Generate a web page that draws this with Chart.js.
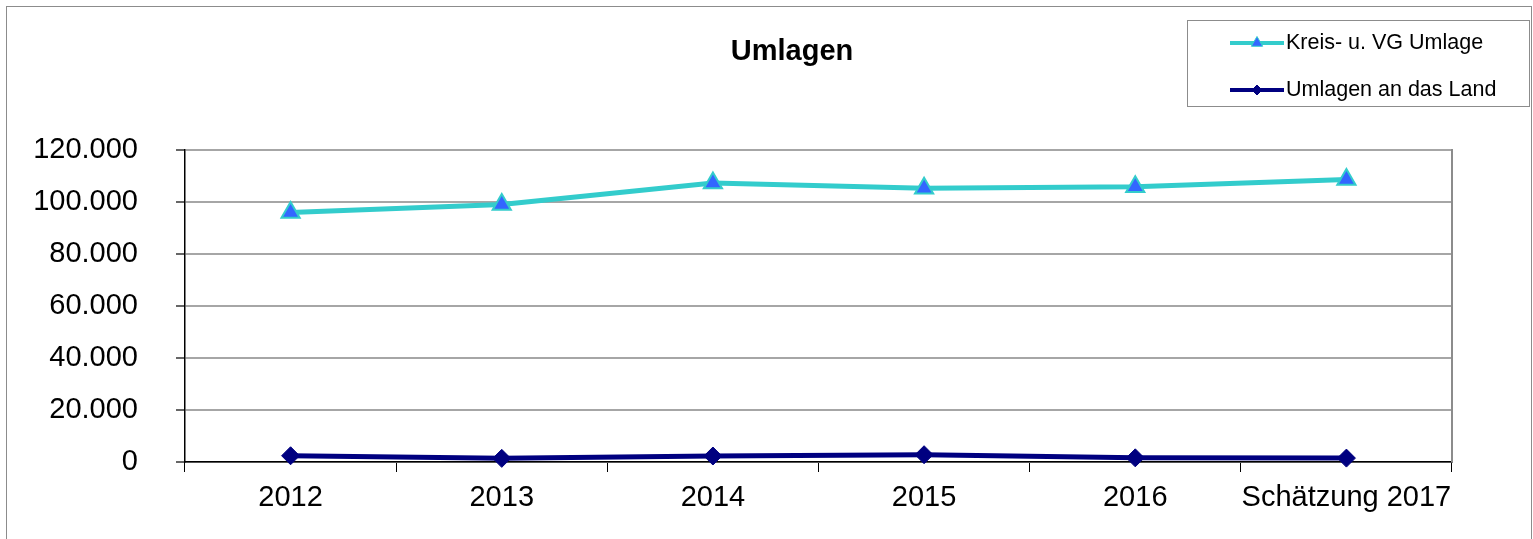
<!DOCTYPE html>
<html>
<head>
<meta charset="utf-8">
<script src="https://cdn.jsdelivr.net/npm/chart.js@4/dist/chart.umd.min.js"></script>
<style>
html,body{margin:0;padding:0;background:#fff;}
canvas{display:block;}
</style>
</head>
<body>
<canvas id="c" width="1533" height="539"></canvas>
<script>
const TITLE = 'Umlagen';
const categories = ['2012', '2013', '2014', '2015', '2016', 'Schätzung 2017'];
const kreisLabel = 'Kreis- u. VG Umlage';
const kreisValues = [96000, 99000, 107300, 105300, 105900, 108700];
const landLabel = 'Umlagen an das Land';
const landValues = [2400, 1400, 2300, 2800, 1600, 1500];
const yTicks = [0, 20000, 40000, 60000, 80000, 100000, 120000];

const FONT = '"Liberation Sans", Arial, sans-serif';

function fmt(v){ return String(v).replace(/\B(?=(\d{3})+(?!\d))/g, '.'); }

function drawMarker(ctx, style, x, y, r, fill, stroke, bw){
  ctx.save();
  ctx.beginPath();
  if (style === 'triangle') {
    for (let i = 0; i < 3; i++) {
      const a = i * 2 * Math.PI / 3;
      const px = x + Math.sin(a) * r, py = y - Math.cos(a) * r;
      if (i === 0) ctx.moveTo(px, py); else ctx.lineTo(px, py);
    }
  } else {
    ctx.moveTo(x, y - r); ctx.lineTo(x + r, y); ctx.lineTo(x, y + r); ctx.lineTo(x - r, y);
  }
  ctx.closePath();
  ctx.fillStyle = fill; ctx.fill();
  if (bw) { ctx.strokeStyle = stroke; ctx.lineWidth = bw; ctx.stroke(); }
  ctx.restore();
}

const decor = {
  id: 'decor',
  beforeDraw(chart){
    const ctx = chart.ctx;
    ctx.save();
    ctx.fillStyle = '#fff';
    ctx.fillRect(0, 0, chart.width, chart.height);
    ctx.strokeStyle = '#8c8c8c';
    ctx.lineWidth = 1;
    ctx.strokeRect(6.5, 6.5, 1525, 545);
    ctx.restore();
  },
  beforeDatasetsDraw(chart){
    const ctx = chart.ctx, a = chart.chartArea;
    ctx.save();
    ctx.strokeStyle = '#8c8c8c';
    ctx.lineWidth = 2;
    ctx.beginPath();
    ctx.moveTo(a.right, a.top - 1); ctx.lineTo(a.right, a.bottom);
    ctx.stroke();
    ctx.restore();
  },
  afterDraw(chart){
    const ctx = chart.ctx;
    ctx.save();
    // title
    ctx.fillStyle = '#000';
    ctx.font = 'bold 29px ' + FONT;
    ctx.textAlign = 'center';
    ctx.textBaseline = 'alphabetic';
    ctx.fillText(TITLE, 792, 60);
    // legend box
    ctx.strokeStyle = '#8c8c8c';
    ctx.lineWidth = 1;
    ctx.strokeRect(1187.5, 20.5, 342, 86);
    const rows = [
      {ds: chart.data.datasets[0], y: 43, style: 'triangle', r: 6.5},
      {ds: chart.data.datasets[1], y: 90, style: 'diamond', r: 5}
    ];
    ctx.font = '21.5px ' + FONT;
    ctx.textAlign = 'left';
    ctx.textBaseline = 'middle';
    rows.forEach(row => {
      ctx.strokeStyle = row.ds.borderColor;
      ctx.lineWidth = 4;
      ctx.beginPath();
      ctx.moveTo(1230, row.y); ctx.lineTo(1284, row.y);
      ctx.stroke();
      drawMarker(ctx, row.style, 1257, row.y, row.r, row.ds.pointBackgroundColor, row.ds.pointBorderColor, 1);
      ctx.fillStyle = '#000';
      ctx.fillText(row.ds.label, 1286, row.y);
    });
    ctx.restore();
  }
};

new Chart(document.getElementById('c'), {
  type: 'line',
  data: {
    labels: categories,
    datasets: [
      {
        label: kreisLabel,
        data: kreisValues,
        borderColor: '#33CCCC',
        borderWidth: 5,
        pointStyle: 'triangle',
        pointRadius: 10.5,
        pointBackgroundColor: '#3366FF',
        pointBorderColor: '#33CCCC',
        pointBorderWidth: 2,
        tension: 0,
        clip: false
      },
      {
        label: landLabel,
        data: landValues,
        borderColor: '#000080',
        borderWidth: 5,
        pointStyle: 'rectRot',
        pointRadius: 9,
        pointBackgroundColor: '#000080',
        pointBorderColor: '#000080',
        pointBorderWidth: 1,
        tension: 0,
        clip: false
      }
    ]
  },
  options: {
    responsive: false,
    animation: false,
    devicePixelRatio: 1,
    layout: { padding: { left: 0, top: 150, right: 81, bottom: 0 } },
    plugins: { legend: { display: false }, title: { display: false }, tooltip: { enabled: false } },
    scales: {
      x: {
        type: 'category',
        offset: true,
        grid: { offset: true, drawOnChartArea: false, tickLength: 10, tickColor: '#000', lineWidth: 1 },
        border: { color: '#000', width: 1.5 },
        ticks: { color: '#000', font: { family: FONT, size: 29 }, padding: 9, autoSkip: false, maxRotation: 0, minRotation: 0 },
        afterFit(scale){ scale.height = 539 - 462; }
      },
      y: {
        min: 0,
        max: 120000,
        afterBuildTicks(scale){ scale.ticks = yTicks.map(v => ({ value: v })); },
        grid: { color: '#a6a6a6', lineWidth: 2, tickLength: 9, tickColor: '#666' },
        border: { color: '#000', width: 1.5 },
        ticks: { color: '#000', font: { family: FONT, size: 29 }, padding: 38, callback: v => fmt(v) },
        afterFit(scale){ scale.width = 185; }
      }
    }
  },
  plugins: [decor]
});
</script>
</body>
</html>
